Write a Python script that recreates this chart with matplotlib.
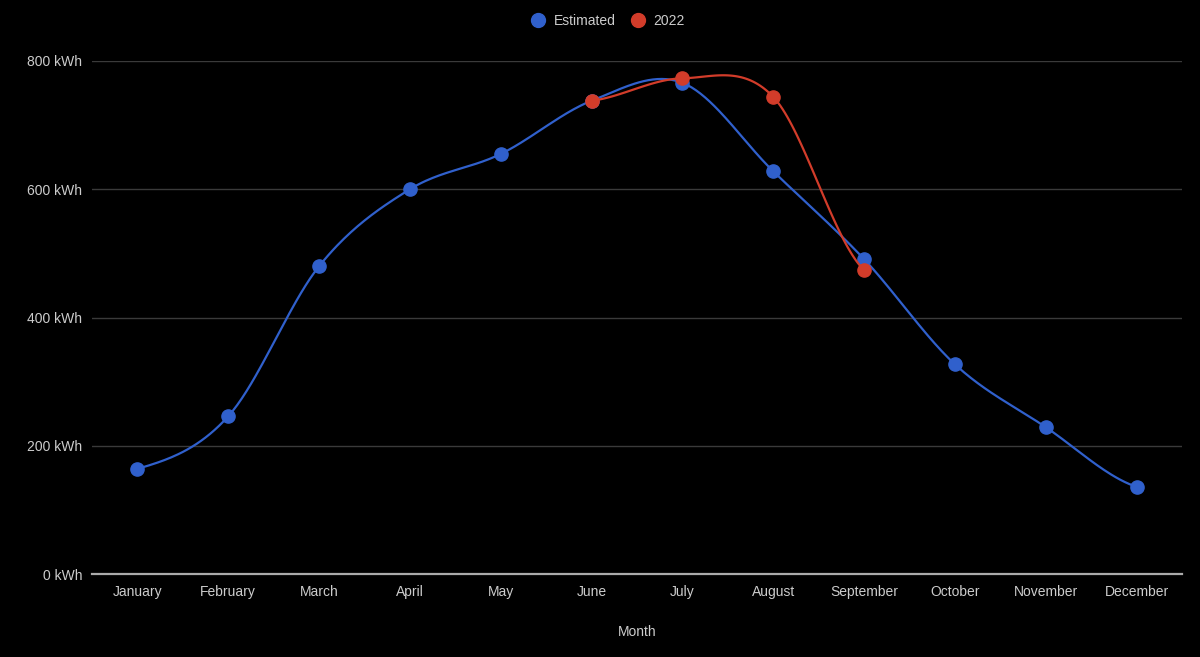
import numpy as np
import matplotlib
matplotlib.use("Agg")
import matplotlib.pyplot as plt
from matplotlib.lines import Line2D

months = ["January", "February", "March", "April", "May", "June", "July",
          "August", "September", "October", "November", "December"]
estimated = [164, 246, 480, 600, 655, 738, 766, 628, 491, 327, 229, 136]
actual_2022_months = ["June", "July", "August", "September"]
actual_2022 = [738, 773, 744, 474]

yticks = [0, 200, 400, 600, 800]
ytick_labels = ["0 kWh", "200 kWh", "400 kWh", "600 kWh", "800 kWh"]

BLUE = "#3060cc"
RED = "#d23c2a"
TXT = "#cccccc"

plt.rcParams['font.family'] = ['Liberation Sans', 'DejaVu Sans']


def smooth(xs, ys, n=40):
    xs = np.asarray(xs, float)
    ys = np.asarray(ys, float)
    m = np.zeros_like(ys)
    for i in range(len(ys)):
        if 0 < i < len(ys) - 1:
            m[i] = (ys[i + 1] - ys[i - 1]) / (xs[i + 1] - xs[i - 1])
        elif i == 0:
            m[i] = (ys[1] - ys[0]) / (xs[1] - xs[0]) * 0.5
        else:
            m[i] = (ys[-1] - ys[-2]) / (xs[-1] - xs[-2]) * 0.5
    ox, oy = [], []
    for i in range(len(xs) - 1):
        h = xs[i + 1] - xs[i]
        t = np.linspace(0, 1, n, endpoint=(i == len(xs) - 2))
        h00 = 2 * t**3 - 3 * t**2 + 1
        h10 = t**3 - 2 * t**2 + t
        h01 = -2 * t**3 + 3 * t**2
        h11 = t**3 - t**2
        oy.append(h00 * ys[i] + h10 * h * m[i] + h01 * ys[i + 1] + h11 * h * m[i + 1])
        ox.append(xs[i] + t * h)
    return np.concatenate(ox), np.concatenate(oy)


fig = plt.figure(figsize=(12, 6.57), dpi=100, facecolor="black")
ax = fig.add_axes([92 / 1200, 1 - 574 / 657, (1182 - 92) / 1200, (574 - 61) / 657])
ax.set_facecolor("black")

x_est = np.arange(len(months))
x_act = np.array([months.index(m) for m in actual_2022_months])

sx, sy = smooth(x_est, estimated)
ax.plot(sx, sy, color=BLUE, lw=1.6, zorder=3)
ax.plot(x_est, estimated, 'o', color=BLUE, ms=9.5, zorder=4)

ax2x, ax2y = smooth(x_act, actual_2022)
ax.plot(ax2x, ax2y, color=RED, lw=1.6, zorder=5)
ax.plot(x_act, actual_2022, 'o', color=RED, ms=9.5, zorder=6)

ax.set_xlim(-0.5, len(months) - 0.5)
ax.set_ylim(0, 800)
ax.set_yticks(yticks)
ax.set_yticklabels(ytick_labels)
ax.set_xticks(x_est)
ax.set_xticklabels(months)
ax.tick_params(length=0, colors=TXT, labelsize=10)
ax.tick_params(axis='y', pad=7)
ax.tick_params(axis='x', pad=8)
for lab in ax.get_xticklabels() + ax.get_yticklabels():
    lab.set_color(TXT)

ax.grid(axis='y', color="#3a3a3a", lw=1)
ax.set_axisbelow(True)
for s in ax.spines.values():
    s.set_visible(False)
ax.axhline(0, color="#aaaaaa", lw=1.6, zorder=2, clip_on=False)

ax.set_xlabel("Month", color=TXT, fontsize=10, labelpad=19)

handles = [Line2D([], [], marker='o', ls='', color=BLUE, ms=10),
           Line2D([], [], marker='o', ls='', color=RED, ms=10)]
fig.legend(handles, ["Estimated", "2022"], loc='center', bbox_to_anchor=(608 / 1200, 1 - 21 / 657),
           ncol=2, frameon=False, labelcolor=TXT, fontsize=10, handletextpad=0.6,
           columnspacing=1.1, handlelength=1.0)

fig.savefig("out.png", dpi=100, facecolor="black")
